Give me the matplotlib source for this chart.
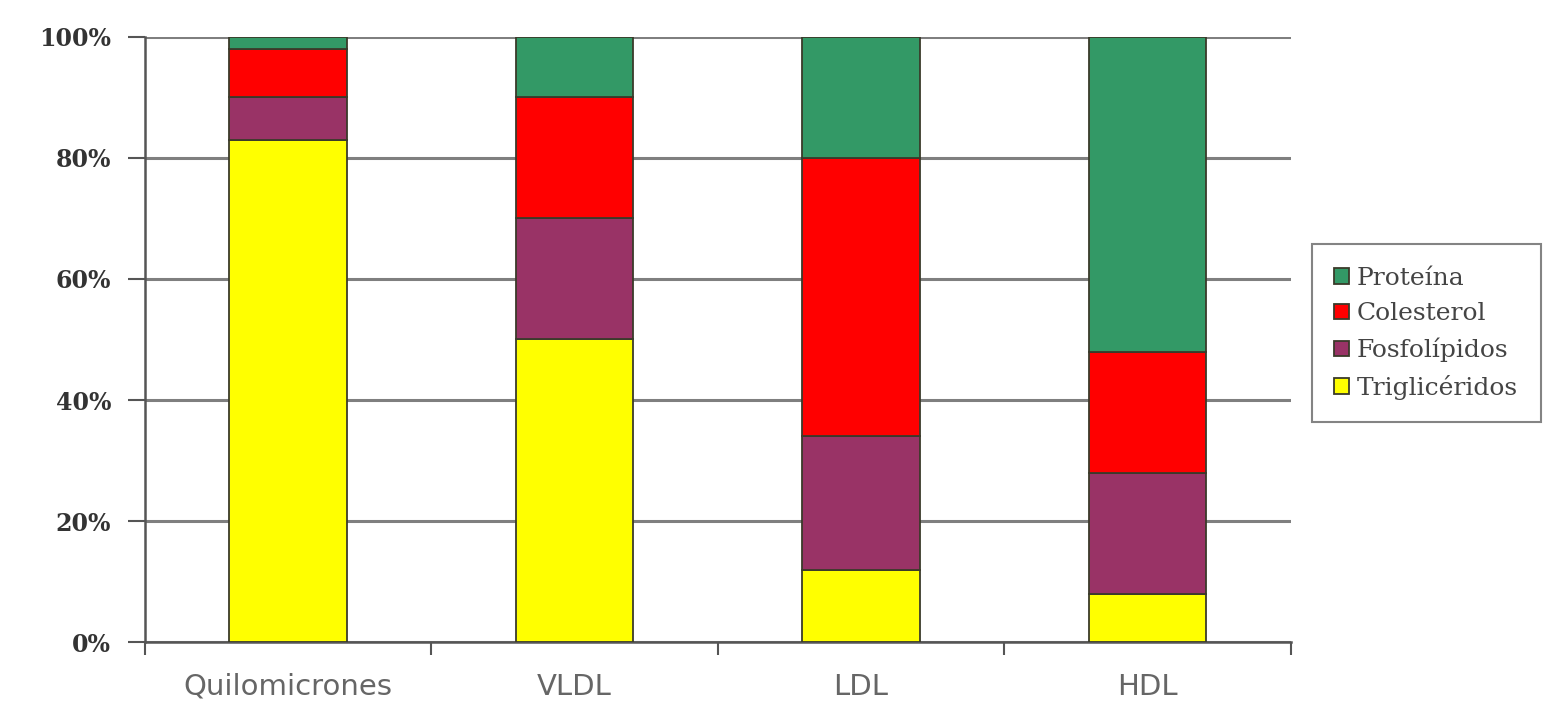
import numpy as np
import matplotlib.pyplot as plt
from matplotlib.ticker import FixedLocator

categorias = ['Quilomicrones', 'VLDL', 'LDL', 'HDL']
trigliceridos = [83, 50, 12, 8]
fosfolipidos = [7, 20, 22, 20]
colesterol = [8, 20, 46, 20]
proteina = [2, 10, 20, 52]

series = [('Triglicéridos', trigliceridos, '#ffff00'),
          ('Fosfolípidos', fosfolipidos, '#993366'),
          ('Colesterol', colesterol, '#ff0000'),
          ('Proteína', proteina, '#339966')]

fig = plt.figure(figsize=(15.55, 7.08), dpi=100)
ax = fig.add_axes([0.093, 0.093, 0.737, 0.855])

x = np.arange(len(categorias))
bottom = np.zeros(len(categorias))
handles = []
for nombre, vals, color in series:
    b = ax.bar(x, vals, width=0.41, bottom=bottom, color=color,
               edgecolor='#3a3a2a', linewidth=1.3, label=nombre, zorder=3)
    handles.append(b)
    bottom += np.array(vals)

ax.set_xlim(-0.5, len(categorias) - 0.5)
ax.set_ylim(0, 100)

# horizontal grid
ax.set_yticks([0, 20, 40, 60, 80, 100])
ax.set_yticklabels(['0%', '20%', '40%', '60%', '80%', '100%'],
                   fontfamily='DejaVu Serif', fontweight='bold', fontsize=17, color='#333333')
ax.yaxis.grid(True, color='#7f7f7f', linewidth=2.2, zorder=0)
ax.tick_params(axis='y', length=12, width=1.5, color='#555555', pad=12)

ax.set_xticks(x)
ax.set_xticklabels(categorias, fontfamily='DejaVu Sans', fontsize=21, color='#666666')
ax.xaxis.set_minor_locator(FixedLocator(np.arange(-0.5, len(categorias), 1.0)))
ax.tick_params(axis='x', which='major', length=0, pad=22)
ax.tick_params(axis='x', which='minor', length=9, width=1.5, color='#555555')

for s in ['top', 'right']:
    ax.spines[s].set_visible(False)
ax.spines['left'].set_color('#555555')
ax.spines['left'].set_linewidth(1.8)
ax.spines['bottom'].set_color('#555555')
ax.spines['bottom'].set_linewidth(1.8)

leg = fig.legend(handles[::-1], [h.get_label() for h in handles[::-1]],
                 loc='upper left', bbox_to_anchor=(0.8437, 0.655),
                 prop={'family': 'DejaVu Serif', 'size': 18},
                 frameon=True, fancybox=False, edgecolor='#666666',
                 handlelength=0.6, handleheight=0.6, handletextpad=0.3,
                 labelspacing=0.5, borderpad=0.9, borderaxespad=0, labelcolor='#444444')
leg.get_frame().set_linewidth(1.5)

fig.savefig('out.png', dpi=100, facecolor='white')
